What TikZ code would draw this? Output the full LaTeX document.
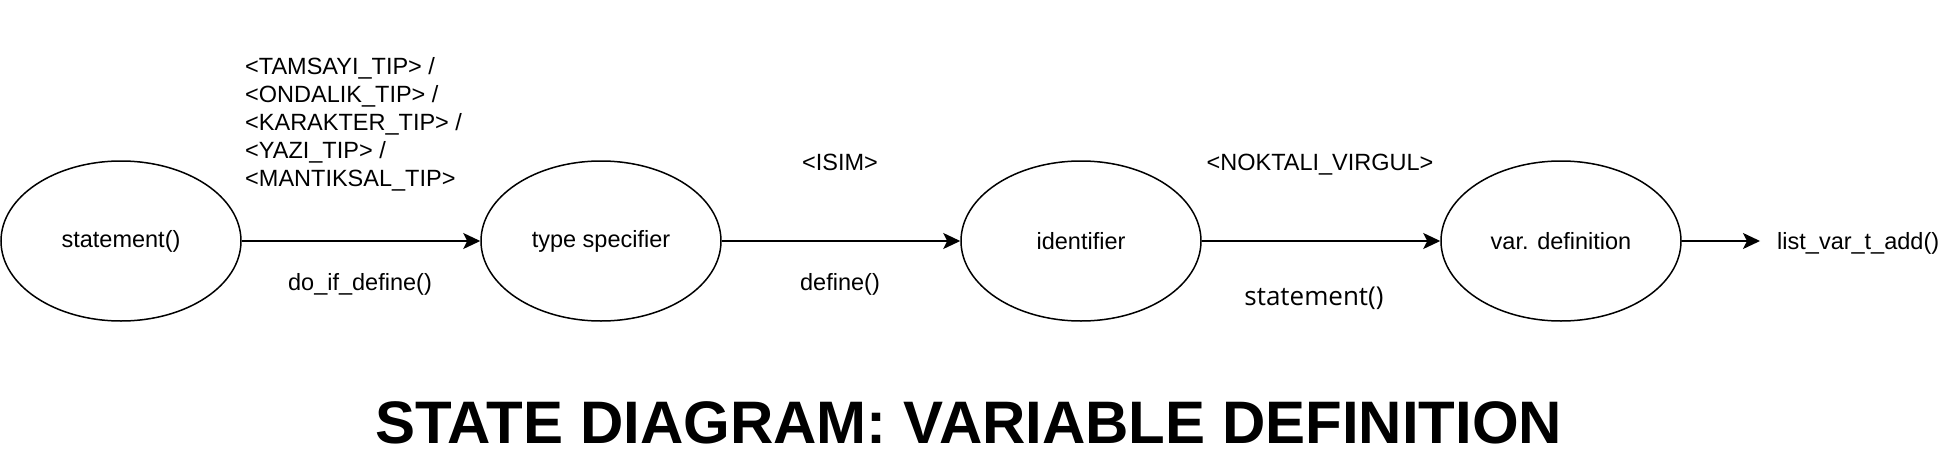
\documentclass[tikz,border=0pt]{standalone}
\usepackage{fontspec}
\setmainfont{Liberation Sans}
\newfontfamily\opensans{Open Sans}
\usetikzlibrary{shapes.geometric,arrows.meta}
\tikzset{
  state/.style={ellipse, draw, line width=1.5pt, minimum width=240pt, minimum height=160pt, inner sep=0pt, font=\fontsize{23.5}{28}\selectfont},
  lbl/.style={inner sep=0pt, font=\fontsize{23.5}{28}\selectfont},
  conn/.style={line width=1.5pt, -{Stealth[length=17pt, width=16pt, inset=4pt]}},
}
\begin{document}
\begin{tikzpicture}[x=1pt, y=-1pt]
\useasboundingbox (0,0) rectangle (1944,460);
\node[state] (s1) at (121,241) {statement()};
\node[state] (s2) at (601,241) {type specifier};
\node[state] (s3) at (1081,241) {identifier};
\node[state] (s4) at (1561,241) {var. definition};
\coordinate (end) at (1760,241);
\draw[conn] (s1) -- (s2);
\draw[conn] (s2) -- (s3);
\draw[conn] (s3) -- (s4);
\draw[conn] (s4) -- (end);
\node[lbl, anchor=north west, align=left] (l1) at (245,57) {<TAMSAYI\_TIP> /\\<ONDALIK\_TIP> /\\<KARAKTER\_TIP> /\\<YAZI\_TIP> /\\<MANTIKSAL\_TIP>};
\node[lbl, anchor=base] (l2) at (360,290) {do\_if\_define()};
\node[lbl, anchor=base] (l3) at (840,170) {<ISIM>};
\node[lbl, anchor=base] (l4) at (840,290) {define()};
\node[lbl, anchor=base] (l5) at (1320,170) {<NOKTALI\_VIRGUL>};
\node[lbl, anchor=base, font=\opensans\fontsize{26}{31}\selectfont] (l6) at (1314,305) {statement()};
\node[lbl, anchor=base west] (l7) at (1777,249) {list\_var\_t\_add()};
\node[inner sep=0pt, anchor=base, font=\bfseries\fontsize{60}{72}\selectfont] (title) at (969,443) {STATE DIAGRAM: VARIABLE DEFINITION};
\end{tikzpicture}
\end{document}
